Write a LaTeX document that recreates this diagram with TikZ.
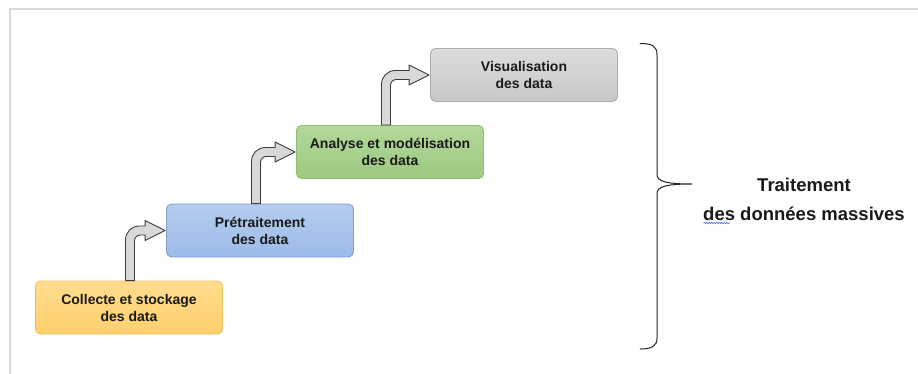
\documentclass[tikz,border=0pt]{standalone}
\usepackage{fontspec}
\setmainfont{Liberation Sans}
\usetikzlibrary{calc,decorations.pathmorphing}

\definecolor{framegray}{HTML}{D9D9D9}
\definecolor{yellowTop}{HTML}{FFDC8E}
\definecolor{yellowBot}{HTML}{FFCF6C}
\definecolor{yellowLine}{HTML}{EDC063}
\definecolor{blueTop}{HTML}{B4CDF0}
\definecolor{blueBot}{HTML}{9CBBE7}
\definecolor{blueLine}{HTML}{809FCB}
\definecolor{greenTop}{HTML}{B3D89B}
\definecolor{greenBot}{HTML}{9DC980}
\definecolor{greenLine}{HTML}{8DBD72}
\definecolor{grayTop}{HTML}{DCDCDC}
\definecolor{grayBot}{HTML}{C8C8C8}
\definecolor{grayLine}{HTML}{AEAEAE}
\definecolor{arrowFill}{HTML}{D9D9D9}
\definecolor{arrowLine}{HTML}{3C3C3C}
\definecolor{inkText}{HTML}{1A1A1A}
\definecolor{spellBlue}{HTML}{4A63D6}

% bent block arrow: #1 = foot of the shaft, #2 = tip of the head
\newcommand{\stagearrow}[2]{%
  \filldraw[flowarrow] let \p1=#1, \p2=#2 in
    (\x1-4.5pt,\y1) -- (\x1-4.5pt,\y2-9.5pt)
    .. controls (\x1-4.5pt,\y2-1.5pt) and (\x1+1.5pt,\y2+4.5pt) .. (\x1+9.5pt,\y2+4.5pt)
    -- (\x2-20pt,\y2+4.5pt) -- (\x2-20pt,\y2+10pt) -- (\x2,\y2)
    -- (\x2-20pt,\y2-10pt) -- (\x2-20pt,\y2-4.5pt)
    -- (\x1+10.5pt,\y2-4.5pt)
    .. controls (\x1+7pt,\y2-4.5pt) and (\x1+4.5pt,\y2-7pt) .. (\x1+4.5pt,\y2-10.5pt)
    -- (\x1+4.5pt,\y1) -- cycle;}

\begin{document}
\begin{tikzpicture}[x=1pt,y=-1pt,
  stage/.style={rectangle, rounded corners=5pt, minimum width=187pt,
    minimum height=53pt, inner sep=0pt, align=center, line width=0.9pt,
    text=inkText, font=\bfseries\fontsize{14}{17}\selectfont},
  flowarrow/.style={fill=arrowFill, draw=arrowLine, line width=0.9pt, line join=round},
  sidetext/.style={inner sep=0pt, anchor=base, text=inkText,
    font=\bfseries\fontsize{18.5}{22}\selectfont},
  bracestyle/.style={draw=black!85, line width=1pt, line cap=round},
  squiggle/.style={draw=spellBlue, line width=0.6pt,
    decorate, decoration={snake, amplitude=0.7pt, segment length=2.5pt}}]

\useasboundingbox (0,0) rectangle (918,374);

% page frame
\draw[framegray, line width=2pt] (10,374) -- (10,9) -- (918,9);

% the four stages
\node[stage, top color=yellowTop, bottom color=yellowBot, draw=yellowLine]
  (collecte) at (129,307.5) {Collecte et stockage\\des data};
\node[stage, top color=blueTop, bottom color=blueBot, draw=blueLine]
  (pretraitement) at (260,230.5) {Prétraitement\\des data};
\node[stage, top color=greenTop, bottom color=greenBot, draw=greenLine]
  (analyse) at (390,152) {Analyse et modélisation\\des data};
\node[stage, top color=grayTop, bottom color=grayBot, draw=grayLine]
  (visualisation) at (524,75) {Visualisation\\des data};

% steps between stages
\stagearrow{($(collecte.north)+(1,0)$)}{($(pretraitement.west)+(-1,0)$)}
\stagearrow{($(pretraitement.north)+(-4,0)$)}{($(analyse.west)+(-1,0)$)}
\stagearrow{($(analyse.north)+(-4,0)$)}{($(visualisation.west)+(-1,0)$)}

% brace grouping all stages
\draw[bracestyle] (640,43.5) .. controls (652,43.5) and (657,46) .. (657,55)
  -- (657,174) .. controls (657,181) and (664,184) .. (692,184)
  .. controls (664,184) and (657,187) .. (657,194)
  -- (657,338) .. controls (657,346) and (652,349) .. (640,349);

% label of the brace
\node[sidetext] (traitement) at (804,192) {Traitement};
\node[sidetext] (massives) at (804,220) {des données massives};
\draw[squiggle] ($(massives.base west)+(0.5,3)$) -- ($(massives.base west)+(27,3)$);

\end{tikzpicture}
\end{document}
